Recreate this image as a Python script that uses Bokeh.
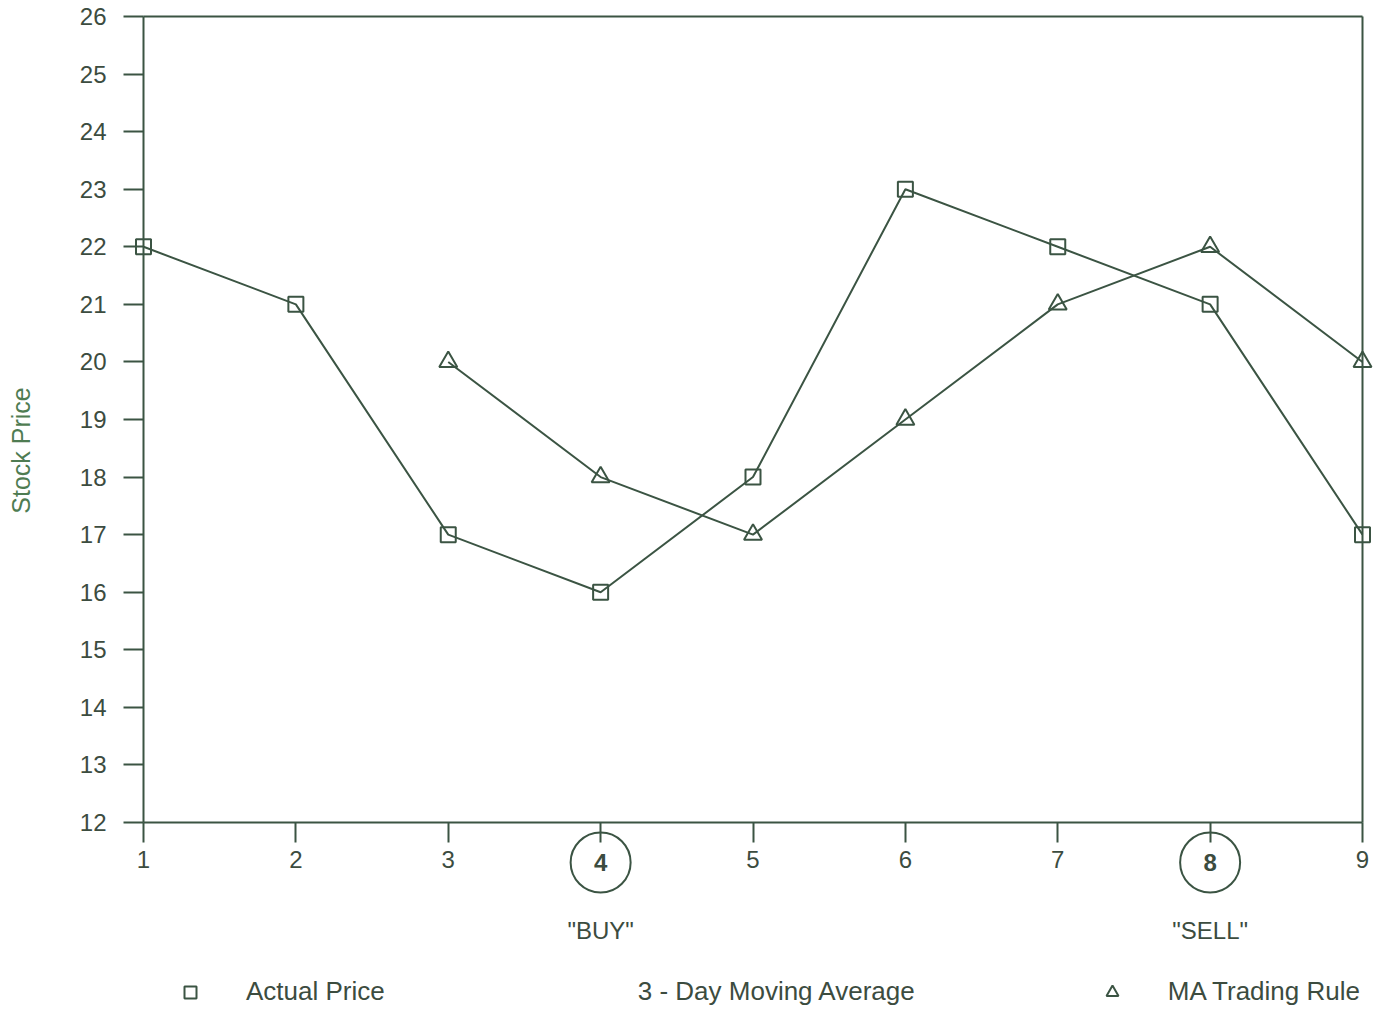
import math
from bokeh.plotting import figure
from bokeh.models import (LinearAxis, FixedTicker, Range1d, Legend, LegendItem,
                          ColumnDataSource, Label)
from bokeh.embed import file_html
from bokeh.resources import INLINE
from bokeh.core.properties import value

# ---------------- data ----------------
days = [1, 2, 3, 4, 5, 6, 7, 8, 9]
actual_price = [22, 21, 17, 16, 18, 23, 22, 21, 17]
ma_days = [3, 4, 5, 6, 7, 8, 9]
ma_values = [20, 18, 17, 19, 21, 22, 20]
y_ticks = list(range(12, 27))
signal_days = [4, 8]
signal_labels = ['"BUY"', '"SELL"']
legend_labels = ["Actual Price", "3 - Day Moving Average", "MA Trading Rule"]
y_title = "Stock Price"

# ---------------- layout ----------------
W, H = 1376, 1008
X_FIRST_PX, X_LAST_PX = 143, 1362     # canvas x of first / last day
Y_TOP_PX, Y_BOT_PX = 16, 822          # canvas y of 26 / 12
Y_MIN, Y_MAX = 12, 26
px_x = (X_LAST_PX - X_FIRST_PX) / (days[-1] - days[0])
px_y = (Y_BOT_PX - Y_TOP_PX) / (Y_MAX - Y_MIN)
x_start = days[0] - X_FIRST_PX / px_x
x_end = days[-1] + (W - X_LAST_PX) / px_x
y_end = Y_MAX + Y_TOP_PX / px_y
y_start = Y_MIN - (H - Y_BOT_PX) / px_y

CIRCLE_DY = 40     # px below axis
SIGNAL_DY = 108    # px below axis
TITLE_X_PX, TITLE_Y_PX = 20, 450

INK = "#3b5443"
TEXT = "#3c4c3f"
GREEN = "#4f7c52"
FONT = "Liberation Sans"

p = figure(width=W, height=H, output_backend="svg", toolbar_location=None,
           x_range=Range1d(x_start, x_end), y_range=Range1d(y_start, y_end),
           x_axis_location=None, y_axis_location=None, title=None,
           min_border=0, min_border_left=0, min_border_right=0,
           min_border_top=0, min_border_bottom=0)
p.outline_line_color = None
p.grid.visible = False
p.background_fill_color = "white"
p.border_fill_color = "white"

# ---------------- axes ----------------
xaxis = LinearAxis(fixed_location=Y_MIN, bounds=(days[0], days[-1]),
                   ticker=FixedTicker(ticks=days),
                   major_tick_out=20, major_tick_in=0,
                   minor_tick_out=0, minor_tick_in=0,
                   major_label_standoff=8,
                   major_label_overrides={d: "" for d in signal_days},
                   major_label_text_font=FONT,
                   major_label_text_font_size="24px",
                   major_label_text_color=TEXT,
                   axis_line_color=INK, axis_line_width=2,
                   major_tick_line_color=INK, major_tick_line_width=2)
p.add_layout(xaxis, "below")

yaxis = LinearAxis(fixed_location=days[0], bounds=(Y_MIN, Y_MAX),
                   ticker=FixedTicker(ticks=y_ticks),
                   major_tick_out=20, major_tick_in=0,
                   minor_tick_out=0, minor_tick_in=0,
                   major_label_standoff=17,
                   major_label_text_font=FONT,
                   major_label_text_font_size="24px",
                   major_label_text_color=TEXT,
                   axis_line_color=INK, axis_line_width=2,
                   major_tick_line_color=INK, major_tick_line_width=2)
p.add_layout(yaxis, "left")

top_axis = LinearAxis(fixed_location=Y_MAX, bounds=(days[0], days[-1]),
                      ticker=FixedTicker(ticks=[]),
                      major_tick_out=0, major_tick_in=0,
                      minor_tick_out=0, minor_tick_in=0,
                      major_label_text_alpha=0,
                      axis_line_color=INK, axis_line_width=2)
p.add_layout(top_axis, "above")

right_axis = LinearAxis(fixed_location=days[-1], bounds=(Y_MIN, Y_MAX),
                        ticker=FixedTicker(ticks=[]),
                        major_tick_out=0, major_tick_in=0,
                        minor_tick_out=0, minor_tick_in=0,
                        major_label_text_alpha=0,
                        axis_line_color=INK, axis_line_width=2)
p.add_layout(right_axis, "right")

# y-axis title
p.add_layout(Label(x=days[0] - (X_FIRST_PX - TITLE_X_PX) / px_x,
                   y=Y_MIN + (Y_BOT_PX - TITLE_Y_PX) / px_y,
                   text=y_title, angle=math.pi / 2,
                   text_align="center", text_baseline="middle",
                   text_font=FONT, text_font_size="25px",
                   text_color=GREEN))

# ---------------- series ----------------
price_src = ColumnDataSource(dict(x=days, y=actual_price))
ma_src = ColumnDataSource(dict(x=ma_days, y=ma_values))

p.line("x", "y", source=price_src, line_color=INK, line_width=2)
r_price = p.scatter("x", "y", source=price_src, marker="square", size=15,
                    fill_color=None, line_color=INK, line_width=2)
p.line("x", "y", source=ma_src, line_color=INK, line_width=2)
r_ma = p.scatter("x", "y", source=ma_src, marker="triangle", size=18,
                 fill_color=None, line_color=INK, line_width=2)
r_blank = p.scatter(x=[], y=[], marker="square", size=1,
                    fill_alpha=0, line_alpha=0)

# ---------------- signal annotations ----------------
circ_y = Y_MIN - CIRCLE_DY / px_y
sig_y = Y_MIN - SIGNAL_DY / px_y
sig_src = ColumnDataSource(dict(
    x=signal_days,
    cy=[circ_y] * len(signal_days),
    ty=[sig_y] * len(signal_days),
    num=[str(d) for d in signal_days],
    lab=signal_labels))
p.scatter("x", "cy", source=sig_src, marker="circle", size=60,
          fill_color=None, line_color=INK, line_width=2)
p.text("x", "cy", text="num", source=sig_src, text_align="center",
       text_baseline="middle", text_font=value(FONT), text_font_size="24px",
       text_font_style="bold", text_color=TEXT)
p.text("x", "ty", text="lab", source=sig_src, text_align="center",
       text_baseline="middle", text_font=value(FONT), text_font_size="24px",
       text_color=TEXT)

# ---------------- legend ----------------
legend = Legend(items=[LegendItem(label=legend_labels[0], renderers=[r_price]),
                       LegendItem(label=legend_labels[1], renderers=[r_blank]),
                       LegendItem(label=legend_labels[2], renderers=[r_ma])],
                orientation="horizontal", location=(175, 1),
                glyph_width=30, glyph_height=30, label_standoff=41,
                spacing=182, padding=0, margin=0,
                border_line_color=None, background_fill_alpha=0,
                label_text_font=FONT, label_text_font_size="26px",
                label_text_color=TEXT)
p.add_layout(legend)

open("out.html", "w").write(file_html(p, INLINE))
